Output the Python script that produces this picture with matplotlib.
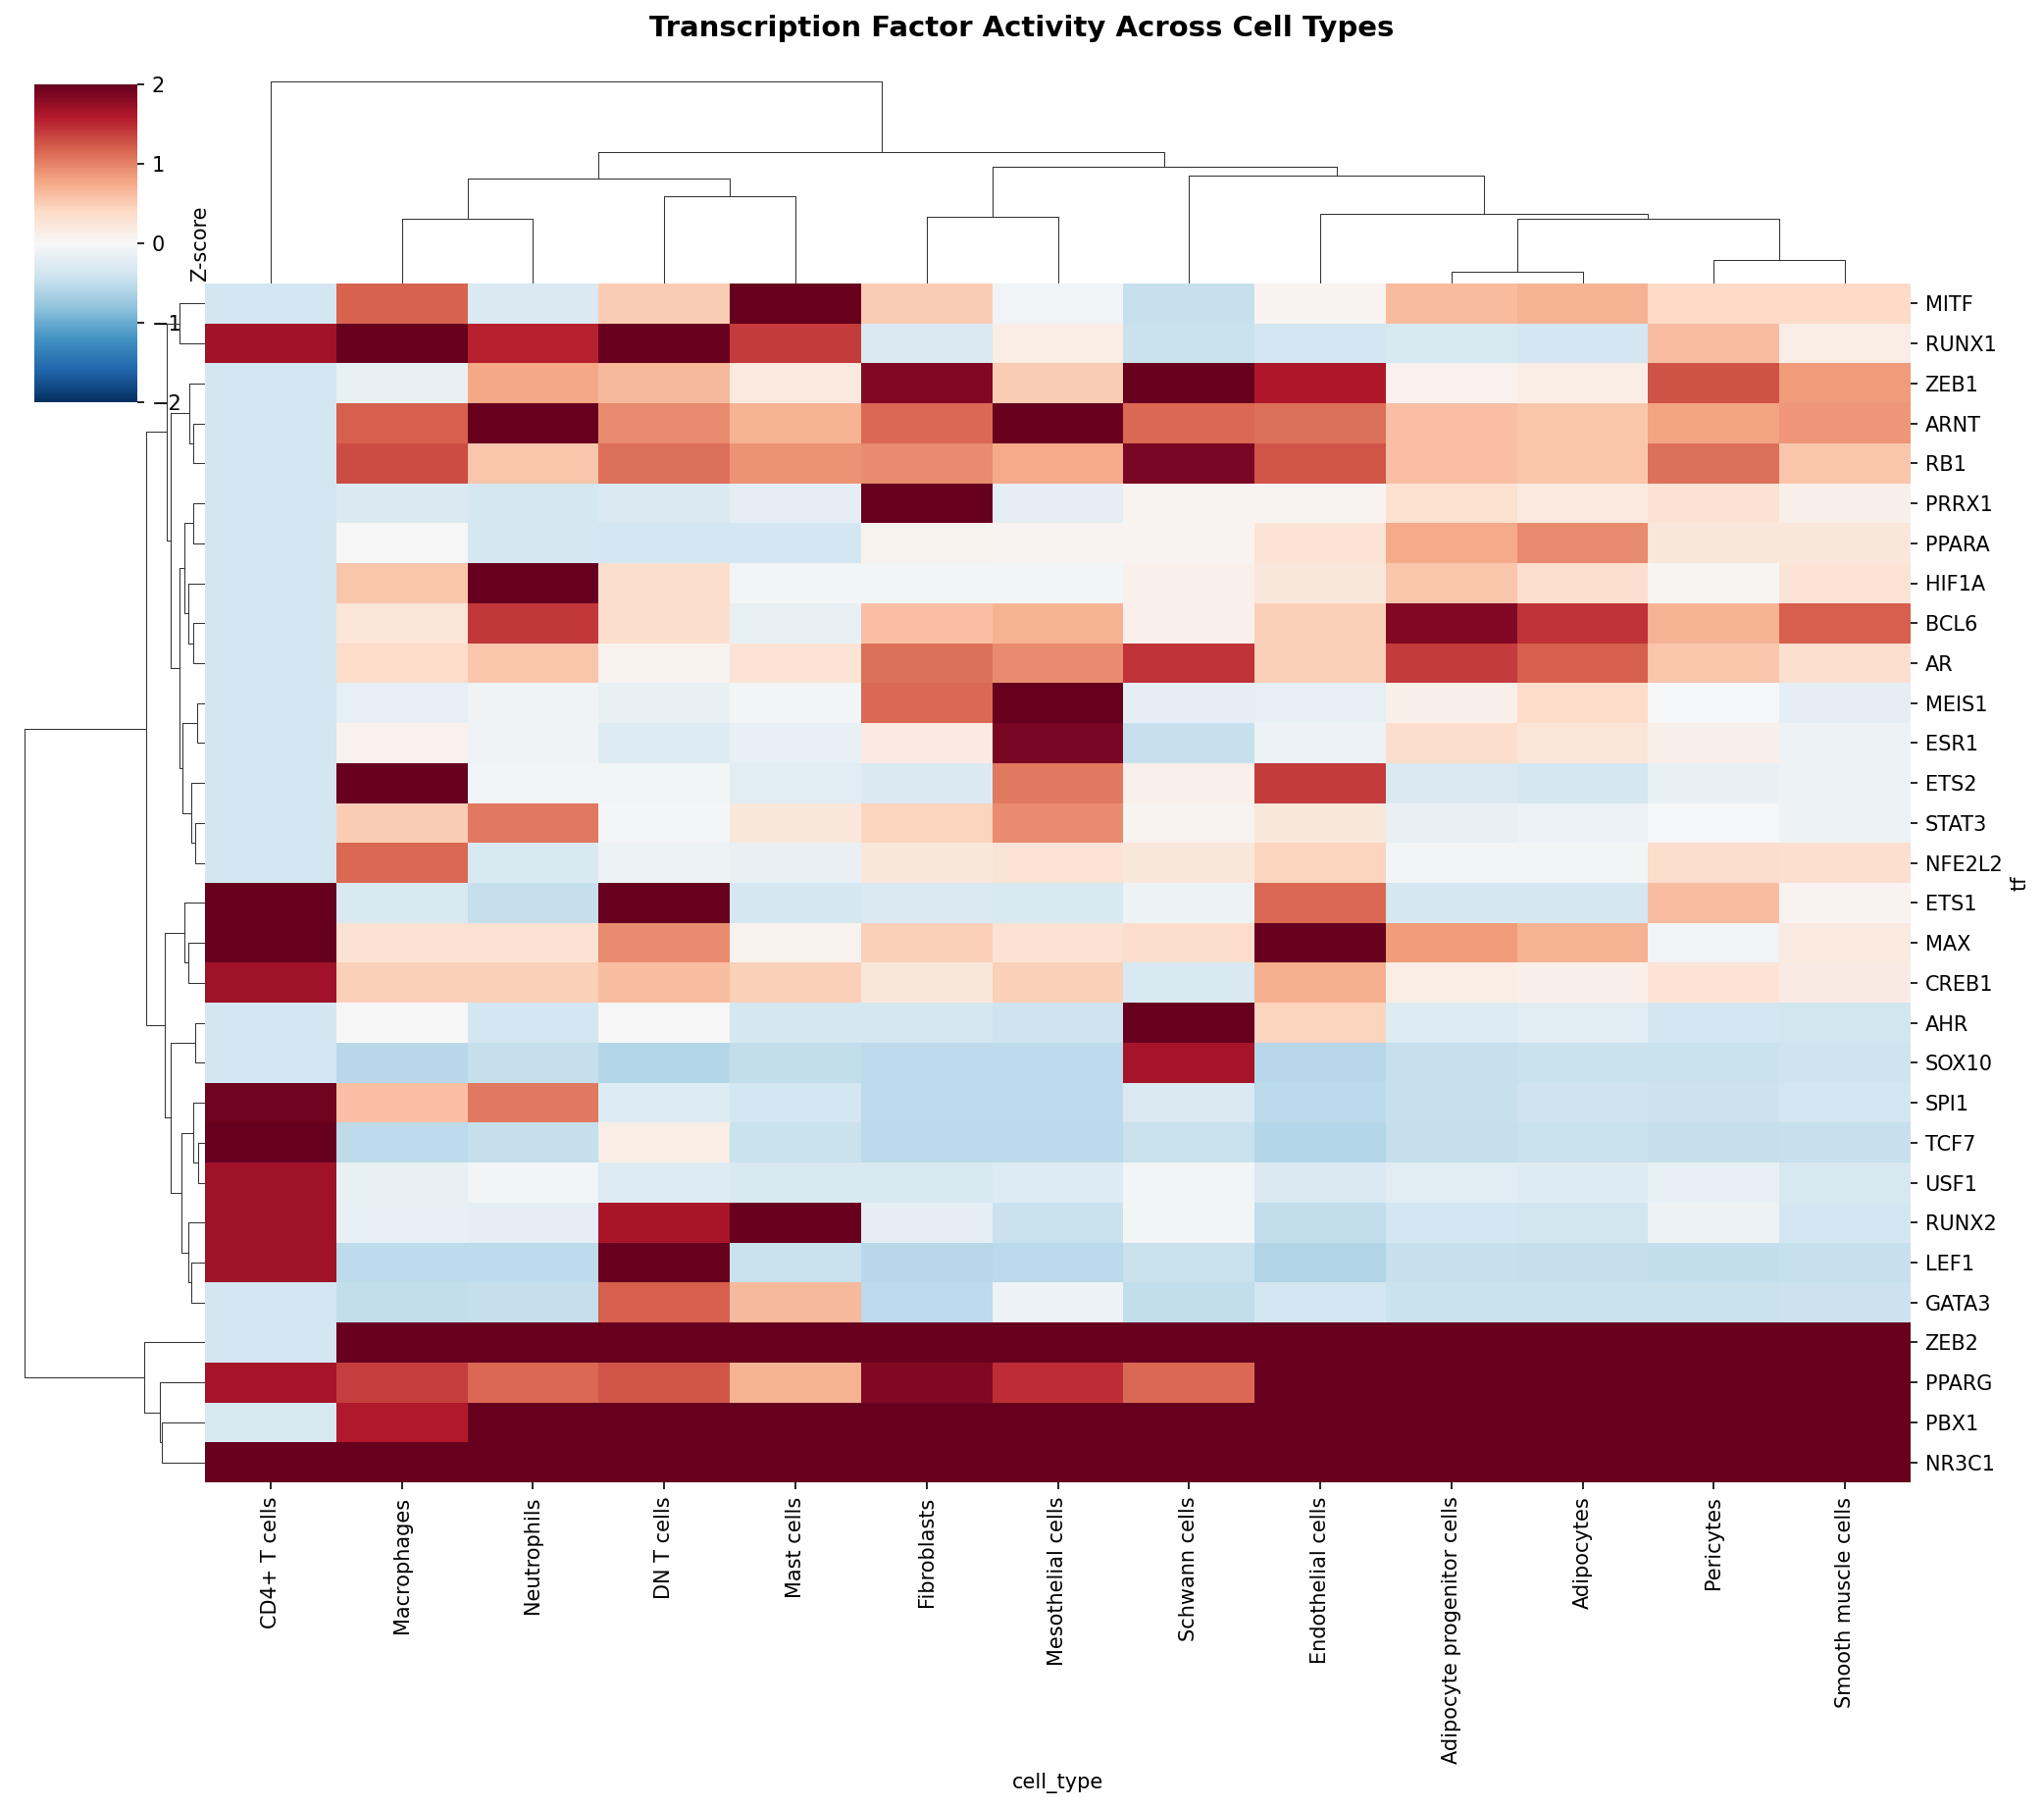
import numpy as np
import pandas as pd
import matplotlib
matplotlib.use('Agg')
import matplotlib.pyplot as plt
import seaborn as sns
from matplotlib.collections import LineCollection

cell_types = ['CD4+ T cells', 'Macrophages', 'Neutrophils', 'DN T cells', 'Mast cells',
              'Fibroblasts', 'Mesothelial cells', 'Schwann cells', 'Endothelial cells',
              'Adipocyte progenitor cells', 'Adipocytes', 'Pericytes', 'Smooth muscle cells']
tfs = ['MITF', 'RUNX1', 'ZEB1', 'ARNT', 'RB1', 'PRRX1', 'PPARA', 'HIF1A', 'BCL6', 'AR',
       'MEIS1', 'ESR1', 'ETS2', 'STAT3', 'NFE2L2', 'ETS1', 'MAX', 'CREB1', 'AHR', 'SOX10',
       'SPI1', 'TCF7', 'USF1', 'RUNX2', 'LEF1', 'GATA3', 'ZEB2', 'PPARG', 'PBX1', 'NR3C1']

zscores = [
    [-.36, 1.18, -.30, .50, 2.0, .50, -.07, -.46, .05, .64, .70, .40, .40],
    [1.68, 2.0, 1.55, 2.0, 1.40, -.30, .15, -.45, -.37, -.34, -.37, .62, .15],
    [-.36, -.15, .78, .65, .20, 1.85, .50, 2.0, 1.62, .08, .15, 1.28, .85],
    [-.36, 1.20, 2.0, .95, .70, 1.15, 2.0, 1.15, 1.10, .60, .55, .80, .88],
    [-.36, 1.30, .55, 1.10, .90, .95, .75, 1.90, 1.25, .60, .55, 1.10, .55],
    [-.36, -.30, -.35, -.30, -.20, 2.0, -.20, .05, .05, .32, .20, .30, .12],
    [-.36, 0, -.35, -.37, -.37, .07, .05, .05, .28, .75, .95, .22, .22],
    [-.36, .55, 2.0, .35, -.05, -.05, -.05, .10, .22, .55, .33, .02, .28],
    [-.36, .25, 1.42, .35, -.15, .60, .70, .10, .48, 1.85, 1.45, .70, 1.20],
    [-.36, .38, .55, .07, .28, 1.10, .95, 1.45, .48, 1.40, 1.20, .55, .33],
    [-.36, -.18, -.08, -.15, -.05, 1.15, 2.0, -.20, -.18, .12, .38, -.02, -.20],
    [-.36, .08, -.08, -.28, -.17, .18, 1.90, -.46, -.12, .35, .25, .12, -.10],
    [-.36, 2.0, -.07, -.05, -.22, -.30, 1.05, .10, 1.40, -.30, -.35, -.15, -.10],
    [-.36, .50, 1.05, -.04, .22, .45, .95, .05, .22, -.15, -.12, -.03, -.10],
    [-.36, 1.15, -.32, -.10, -.15, .22, .28, .22, .45, -.05, -.05, .36, .33],
    [2.0, -.32, -.48, 2.0, -.35, -.30, -.32, -.10, 1.15, -.35, -.35, .62, .05],
    [2.0, .30, .30, .95, .07, .47, .30, .36, 2.0, .85, .70, -.07, .20],
    [1.70, .47, .47, .62, .47, .22, .47, -.32, .72, .15, .12, .28, .17],
    [-.36, 0, -.37, 0, -.35, -.35, -.41, 2.0, .45, -.27, -.22, -.36, -.38],
    [-.36, -.55, -.47, -.59, -.49, -.52, -.53, 1.67, -.55, -.46, -.45, -.45, -.42],
    [1.95, .60, 1.05, -.27, -.36, -.52, -.52, -.30, -.54, -.46, -.41, -.43, -.37],
    [2.0, -.53, -.47, .15, -.45, -.54, -.54, -.45, -.58, -.48, -.44, -.47, -.46],
    [1.70, -.15, -.06, -.27, -.32, -.32, -.27, -.06, -.30, -.22, -.27, -.17, -.33],
    [1.70, -.17, -.20, 1.65, 2.0, -.20, -.45, -.05, -.50, -.37, -.39, -.10, -.37],
    [1.70, -.52, -.52, 2.0, -.45, -.55, -.54, -.45, -.60, -.46, -.47, -.49, -.46],
    [-.36, -.50, -.47, 1.20, .65, -.52, -.12, -.49, -.37, -.45, -.45, -.45, -.43],
    [-.36, 2.0, 2.0, 2.0, 2.0, 2.0, 2.0, 2.0, 2.0, 2.0, 2.0, 2.0, 2.0],
    [1.67, 1.38, 1.15, 1.25, .70, 1.85, 1.48, 1.15, 2.0, 2.0, 2.0, 2.0, 2.0],
    [-.33, 1.60, 2.0, 2.0, 2.0, 2.0, 2.0, 2.0, 2.0, 2.0, 2.0, 2.0, 2.0],
    [2.0, 2.0, 2.0, 2.0, 2.0, 2.0, 2.0, 2.0, 2.0, 2.0, 2.0, 2.0, 2.0],
]

# merge trees: (height, left, right), ints are leaf positions
col_tree = (10.0, 0,
            (6.50,
             (5.18, (3.18, 1, 2), (4.30, 3, 4)),
             (5.77, (3.28, 5, 6),
              (5.33, 7,
               (3.42, 8,
                (3.18, (0.55, 9, 10), (1.13, 11, 12)))))))

row_tree = (10.0,
            (3.26,
             (2.12, (1.41, 0, 1),
              (1.85, (0.87, 2, (0.65, 3, 4)),
               (1.41,
                (1.14, (0.65, 5, 6), (0.92, 7, (0.60, 8, 9))),
                (1.20, (0.43, 10, 11), (0.76, 12, (0.54, 13, 14)))))),
             (2.23, (1.14, 15, (0.92, 16, 17)),
              (1.85, (0.54, 18, 19),
               (1.30,
                (0.60, 20, (0.33, 21, 22)),
                (0.92, 23, (0.76, 24, 25)))))),
            (3.37, 26, (2.50, 27, (2.39, 28, 29))))

W, H = 2084, 1843


def px_axes(fig, left, top, right, bottom):
    """Axes from pixel edges, y counted from the top of the image"""
    return fig.add_axes([left / W, 1 - bottom / H, (right - left) / W, (bottom - top) / H])


def tree_segments(node, segs):
    """Walk a merge tree, return (position, height) of the node"""
    if isinstance(node, int):
        return node + 0.5, 0.0
    h, left, right = node
    p1, h1 = tree_segments(left, segs)
    p2, h2 = tree_segments(right, segs)
    segs.append([(p1, h1), (p1, h), (p2, h), (p2, h2)])
    return (p1 + p2) / 2, h


def draw_dendrogram(ax, tree, n, vertical=True):
    segs = []
    tree_segments(tree, segs)
    if not vertical:
        segs = [[(y, x) for x, y in s] for s in segs]
    ax.add_collection(LineCollection(segs, linewidths=.5, colors='.2'))
    top = tree[0] * 1.05
    if vertical:
        ax.set_xlim(0, n)
        ax.set_ylim(0, top)
    else:
        ax.set_xlim(top, 0)
        ax.set_ylim(n, 0)
    ax.set_axis_off()


df = pd.DataFrame(zscores, index=pd.Index(tfs, name='tf'),
                  columns=pd.Index(cell_types, name='cell_type'))

fig = plt.figure(figsize=(W / 150, H / 150), dpi=150)
cax = px_axes(fig, 35, 86, 140, 410)
ax_row = px_axes(fig, 15.5, 289, 208.5, 1511)
ax_col = px_axes(fig, 209, 73, 1948, 288.5)
ax = px_axes(fig, 209, 289, 1948, 1511)

sns.heatmap(df, ax=ax, cbar_ax=cax, cmap='RdBu_r', center=0, vmin=-2, vmax=2,
            xticklabels=True, yticklabels=True, cbar_kws={'label': 'Z-score'})
ax.yaxis.tick_right()
ax.yaxis.set_label_position('right')
ax.tick_params(axis='y', labelrotation=0)
ax.tick_params(axis='x', labelrotation=90)

draw_dendrogram(ax_col, col_tree, len(cell_types))
draw_dendrogram(ax_row, row_tree, len(tfs), vertical=False)

fig.text(0.5, 1 - 29 / H, 'Transcription Factor Activity Across Cell Types',
         ha='center', va='center', fontsize=14, fontweight='bold')

fig.savefig('out.png', dpi=150)
